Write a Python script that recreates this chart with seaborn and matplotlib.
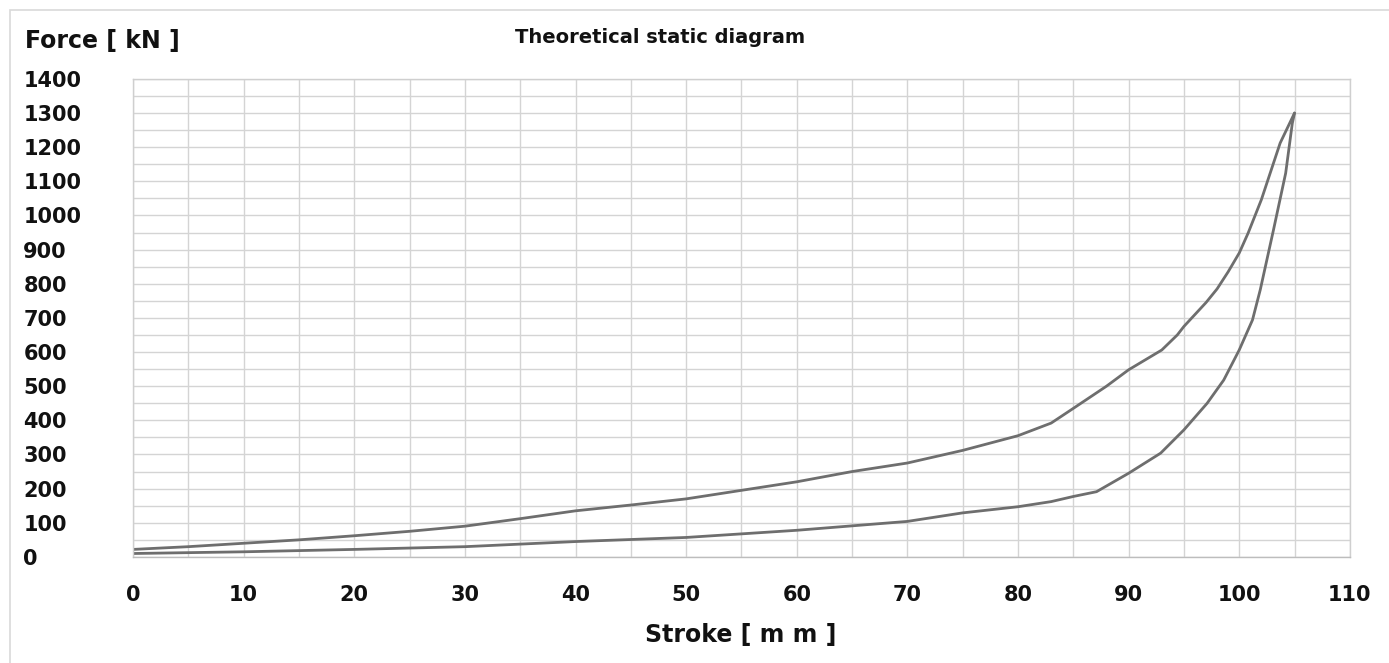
import matplotlib.pyplot as plt
import matplotlib.patches as patches
import pandas as pd
import seaborn as sns

# loading branch (upper curve)
load_stroke = [0, 5, 10, 15, 20, 25, 30, 35, 40, 45, 50, 55, 60, 65, 70, 75,
               80, 83, 85, 88, 90, 93, 94.4, 95, 97, 98, 99, 100, 100.8, 102,
               103.7, 105]
load_force = [22, 30, 40, 50, 62, 75, 90, 112, 135, 152, 170, 195, 220, 250,
              275, 312, 355, 392, 435, 500, 548, 606, 650, 675, 745, 785, 835,
              890, 948, 1046, 1212, 1300]

# unloading branch (lower curve)
unload_stroke = [105, 104.8, 104.2, 103.1, 101.9, 101.2, 100, 98.6, 97.1, 95,
                 92.9, 90, 87.1, 85, 83, 80, 75, 70, 65, 60, 50, 40, 30, 20,
                 10, 0]
unload_force = [1300, 1270, 1124, 958, 782, 694, 606, 518, 450, 372, 304,
                245, 191, 177, 162, 147, 129, 104, 91, 78, 57, 45, 30, 22,
                15, 10]

x_ticks = list(range(0, 111, 10))
y_ticks = list(range(0, 1401, 100))


def main():
    sns.set_theme(style="white")
    plt.rcParams['font.family'] = ['DejaVu Sans']

    fig = plt.figure(figsize=(13.89, 6.63), dpi=100)
    ax = fig.add_axes([0.0958, 0.160, 0.876, 0.721])

    df_load = pd.DataFrame({"stroke": load_stroke, "force": load_force})
    df_unload = pd.DataFrame({"stroke": unload_stroke, "force": unload_force})

    line_color = "#6e6e6e"
    sns.lineplot(x="stroke", y="force", data=df_load, sort=False,
                 color=line_color, linewidth=2, ax=ax)
    sns.lineplot(x="stroke", y="force", data=df_unload, sort=False,
                 color=line_color, linewidth=2, ax=ax)

    ax.set_xlim(0, 110)
    ax.set_ylim(0, 1400)
    ax.set_xticks(x_ticks)
    ax.set_yticks(y_ticks)
    ax.set_xticks(range(5, 110, 10), minor=True)
    ax.set_yticks(range(50, 1400, 100), minor=True)
    ax.grid(True, which="both", color="#d4d4d4", linewidth=1)
    ax.set_axisbelow(True)
    for sp in ax.spines.values():
        sp.set_color("#cfcfcf")
        sp.set_linewidth(1)
    ax.spines["bottom"].set_color("#bdbdbd")

    ax.tick_params(axis="both", which="both", length=0)
    ax.set_xticklabels([str(t) for t in x_ticks], fontsize=15,
                       fontweight="bold", color="#111111")
    ax.set_yticklabels([str(t) for t in y_ticks], fontsize=15,
                       fontweight="bold", color="#111111")
    for lbl in ax.get_yticklabels():
        lbl.set_horizontalalignment("left")
    ax.tick_params(axis="y", pad=79)
    ax.tick_params(axis="x", pad=20)

    ax.set_xlabel("")
    ax.set_ylabel("")
    fig.text(0.533, 0.042, "Stroke [ m m ]", fontsize=17, fontweight="bold",
             ha="center", va="center", color="#111111")
    fig.text(0.018, 0.938, "Force [ kN ]", fontsize=17, fontweight="bold",
             ha="left", va="center", color="#111111")
    fig.text(0.475, 0.943, "Theoretical static diagram", fontsize=14,
             fontweight="bold", ha="center", va="center", color="#111111")

    # light frame around the chart area
    frame = patches.Rectangle((0.007, -0.01), 1.0, 0.995,
                              transform=fig.transFigure, fill=False,
                              edgecolor="#d9d9d9", linewidth=1.2)
    fig.patches.append(frame)

    plt.savefig("out.png", dpi=100)
    plt.close()


if __name__ == '__main__':
    main()
